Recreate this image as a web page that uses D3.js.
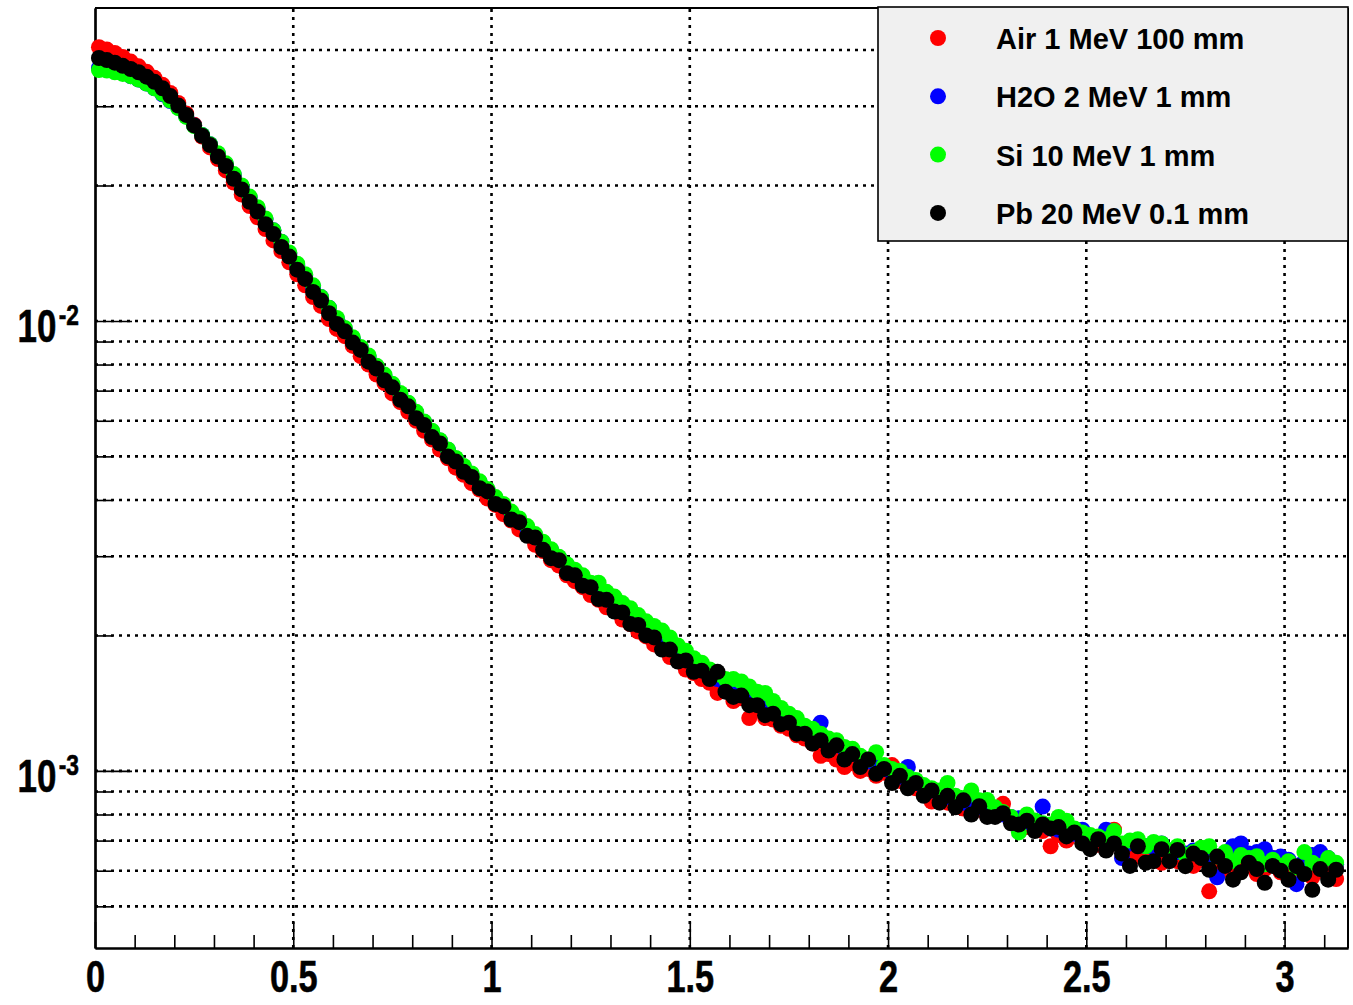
<!DOCTYPE html>
<html>
<head>
<meta charset="utf-8">
<script src="https://cdn.jsdelivr.net/npm/d3@7"></script>
<style>
  body { margin: 0; background: #fff; }
</style>
</head>
<body>
<div id="chart"></div>
<script>
// histogram bins of 0.02 starting at 0
const binWidth = 0.02;

const seriesNames = ["Air 1 MeV 100 mm", "H2O 2 MeV 1 mm", "Si 10 MeV 1 mm", "Pb 20 MeV 0.1 mm"];
const seriesColors = ["#ff0000", "#0000ff", "#00ff00", "#000000"];

const airValues = [
  0.0406, 0.0401, 0.0394, 0.0386, 0.0377, 0.0368, 0.0358, 0.0347, 0.0335, 0.0321,
  0.0305, 0.0289, 0.0273, 0.0257, 0.0243, 0.0229, 0.0216, 0.0203, 0.0191, 0.0180,
  0.0170, 0.0160, 0.0151, 0.0143, 0.0135, 0.0127, 0.0120, 0.0113, 0.0108, 0.0101,
  0.00960, 0.00925, 0.00880, 0.00835, 0.00800, 0.00760, 0.00728, 0.00690, 0.00660, 0.00628,
  0.00600, 0.00570, 0.00545, 0.00518, 0.00495, 0.00472, 0.00455, 0.00436, 0.00422, 0.00403,
  0.00390, 0.00372, 0.00360, 0.00344, 0.00335, 0.00318, 0.00308, 0.00294, 0.00286, 0.00272,
  0.00264, 0.00256, 0.00246, 0.00240, 0.00231, 0.00227, 0.00217, 0.00212, 0.00204, 0.00199,
  0.00191, 0.00187, 0.00179, 0.00176, 0.00168, 0.00165, 0.00160, 0.00157, 0.00149, 0.00152,
  0.00143, 0.00145, 0.00131, 0.00137, 0.00131, 0.00130, 0.00126, 0.00124, 0.00120, 0.00118,
  0.00115, 0.00108, 0.00109, 0.00106, 0.00102, 0.00104, 0.00100, 0.00101, 0.000975, 0.000990,
  0.00103, 0.000950, 0.000920, 0.000915, 0.000895, 0.000855, 0.000870, 0.000850, 0.000840, 0.000825,
  0.000815, 0.000820, 0.000795, 0.000800, 0.000845, 0.000775, 0.000765, 0.000750, 0.000745, 0.000735,
  0.000680, 0.000720, 0.000700, 0.000740, 0.000695, 0.000705, 0.000685, 0.000670, 0.000740, 0.000685,
  0.000655, 0.000645, 0.000660, 0.000640, 0.000625, 0.000650, 0.000630, 0.000640, 0.000615, 0.000635,
  0.000540, 0.000620, 0.000605, 0.000630, 0.000600, 0.000615, 0.000590, 0.000605, 0.000640, 0.000595,
  0.000585, 0.000610, 0.000600, 0.000580, 0.000600, 0.000590, 0.000575
];

const h2oValues = [
  0.0365, 0.0363, 0.0359, 0.0355, 0.0350, 0.0344, 0.0337, 0.0329, 0.0319, 0.0308,
  0.0298, 0.0285, 0.0272, 0.0259, 0.0247, 0.0235, 0.0223, 0.0211, 0.0199, 0.0188,
  0.0178, 0.0168, 0.0159, 0.0150, 0.0141, 0.0133, 0.0126, 0.0119, 0.0113, 0.0107,
  0.01010, 0.00962, 0.00915, 0.00872, 0.00832, 0.00792, 0.00755, 0.00722, 0.00688, 0.00656,
  0.00625, 0.00596, 0.00568, 0.00542, 0.00517, 0.00494, 0.00474, 0.00456, 0.00438, 0.00421,
  0.00404, 0.00389, 0.00374, 0.00360, 0.00347, 0.00334, 0.00321, 0.00310, 0.00298, 0.00287,
  0.00277, 0.00268, 0.00259, 0.00251, 0.00243, 0.00235, 0.00228, 0.00221, 0.00214, 0.00207,
  0.00201, 0.00195, 0.00189, 0.00184, 0.00178, 0.00173, 0.00168, 0.00164, 0.00160, 0.00156,
  0.00152, 0.00149, 0.00145, 0.00142, 0.00139, 0.00136, 0.00133, 0.00130, 0.00127, 0.00124,
  0.00121, 0.00128, 0.00116, 0.00114, 0.00112, 0.00110, 0.00107, 0.00105, 0.00103, 0.00101,
  0.000990, 0.000970, 0.00102, 0.000940, 0.000920, 0.000905, 0.000890, 0.000875, 0.000865, 0.000850,
  0.000840, 0.000830, 0.000820, 0.000810, 0.000800, 0.000790, 0.000785, 0.000770, 0.000760, 0.000833,
  0.000745, 0.000740, 0.000735, 0.000725, 0.000740, 0.000715, 0.000710, 0.000740, 0.000700, 0.000640,
  0.000690, 0.000685, 0.000680, 0.000675, 0.000690, 0.000665, 0.000660, 0.000655, 0.000665, 0.000650,
  0.000645, 0.000580, 0.000650, 0.000680, 0.000690, 0.000655, 0.000660, 0.000670, 0.000640, 0.000645,
  0.000635, 0.000560, 0.000630, 0.000650, 0.000660, 0.000640, 0.000620
];

const siValues = [
  0.0361, 0.0360, 0.0357, 0.0354, 0.0350, 0.0344, 0.0337, 0.0329, 0.0320, 0.0309,
  0.0297, 0.0284, 0.0271, 0.0259, 0.0247, 0.0236, 0.0224, 0.0212, 0.0200, 0.0189,
  0.0179, 0.0169, 0.0159, 0.0150, 0.0142, 0.0134, 0.0127, 0.0120, 0.0113, 0.0107,
  0.01015, 0.00965, 0.00920, 0.00875, 0.00838, 0.00795, 0.00760, 0.00725, 0.00692, 0.00658,
  0.00628, 0.00598, 0.00570, 0.00543, 0.00518, 0.00496, 0.00476, 0.00458, 0.00440, 0.00423,
  0.00406, 0.00392, 0.00377, 0.00364, 0.00350, 0.00336, 0.00323, 0.00311, 0.00299, 0.00288,
  0.00280, 0.00272, 0.00262, 0.00262, 0.00250, 0.00244, 0.00236, 0.00230, 0.00222, 0.00215,
  0.00210, 0.00205, 0.00198, 0.00190, 0.00185, 0.00178, 0.00174, 0.00168, 0.00164, 0.00160,
  0.00160, 0.00158, 0.00154, 0.00150, 0.00149, 0.00143, 0.00138, 0.00134, 0.00131, 0.00126,
  0.00124, 0.00121, 0.00118, 0.00117, 0.00113, 0.00112, 0.00108, 0.00106, 0.00110, 0.00103,
  0.00101, 0.00100, 0.000970, 0.000955, 0.000930, 0.000915, 0.000905, 0.000940, 0.000880, 0.000870,
  0.000905, 0.000860, 0.000862, 0.000830, 0.000810, 0.000790, 0.000730, 0.000800, 0.000776, 0.000765,
  0.000760, 0.000790, 0.000775, 0.000745, 0.000730, 0.000720, 0.000715, 0.000705, 0.000735, 0.000690,
  0.000700, 0.000705, 0.000680, 0.000695, 0.000690, 0.000665, 0.000680, 0.000650, 0.000660, 0.000675,
  0.000680, 0.000645, 0.000660, 0.000630, 0.000650, 0.000640, 0.000646, 0.000620, 0.000635, 0.000615,
  0.000630, 0.000610, 0.000660, 0.000625, 0.000615, 0.000640, 0.000625
];

const pbValues = [
  0.0384, 0.0380, 0.0375, 0.0369, 0.0363, 0.0357, 0.0349, 0.0340, 0.0329, 0.0316,
  0.0301, 0.0287, 0.0272, 0.0258, 0.0246, 0.0232, 0.0221, 0.0207, 0.0196, 0.0184,
  0.0175, 0.0164, 0.0156, 0.0146, 0.0139, 0.0130, 0.0124, 0.0116, 0.0111, 0.0104,
  0.00985, 0.00948, 0.00895, 0.00862, 0.00812, 0.00784, 0.00738, 0.00712, 0.00668, 0.00646,
  0.00608, 0.00587, 0.00552, 0.00534, 0.00500, 0.00487, 0.00462, 0.00450, 0.00425, 0.00418,
  0.00392, 0.00387, 0.00362, 0.00357, 0.00333, 0.00330, 0.00310, 0.00297, 0.00294, 0.00275,
  0.00272, 0.00258, 0.00256, 0.00241, 0.00240, 0.00226, 0.00225, 0.00212, 0.00211, 0.00200,
  0.00198, 0.00186, 0.00186, 0.00175, 0.00176, 0.00166, 0.00167, 0.00160, 0.00166, 0.00150,
  0.00146, 0.00147, 0.00140, 0.00140, 0.00133, 0.00134, 0.00127, 0.00128, 0.00121, 0.00121,
  0.00115, 0.00117, 0.00111, 0.00114, 0.00106, 0.00109, 0.00102, 0.00106, 0.000985, 0.00101,
  0.000940, 0.000975, 0.000915, 0.000940, 0.000880, 0.000905, 0.000850, 0.000880, 0.000830, 0.000860,
  0.000800, 0.000835, 0.000790, 0.000790, 0.000805, 0.000765, 0.000760, 0.000775, 0.000735, 0.000760,
  0.000745, 0.000750, 0.000715, 0.000730, 0.000690, 0.000670, 0.000705, 0.000665, 0.000690, 0.000655,
  0.000615, 0.000680, 0.000625, 0.000630, 0.000670, 0.000630, 0.000667, 0.000614, 0.000655, 0.000640,
  0.000603, 0.000645, 0.000615, 0.000573, 0.000595, 0.000625, 0.000605, 0.000564, 0.000615, 0.000600,
  0.000573, 0.000614, 0.000590, 0.000544, 0.000605, 0.000573, 0.000603
];

const xMajor = [0, 0.5, 1, 1.5, 2, 2.5, 3];
const xMinor = [0.1, 0.2, 0.3, 0.4, 0.6, 0.7, 0.8, 0.9, 1.1, 1.2, 1.3, 1.4, 1.6, 1.7, 1.8, 1.9,
                2.1, 2.2, 2.3, 2.4, 2.6, 2.7, 2.8, 2.9, 3.1];
const yMajor = [0.001, 0.01];
const yMajorLabels = [["10", "-3"], ["10", "-2"]];
const yMinor = [0.0005, 0.0006, 0.0007, 0.0008, 0.0009,
                0.002, 0.003, 0.004, 0.005, 0.006, 0.007, 0.008, 0.009,
                0.02, 0.03, 0.04];

//SVG
const width = 1353;
const height = 1005;
const frame = {l: 95, r: 1348, t: 8, b: 948};
const svg = d3.select("#chart")
    .append("svg")
    .attr("width", width)
    .attr("height", height)
    .style("background-color", "white")
    .attr("viewBox", [0, 0, width, height]);

const fontFam = "'Liberation Sans', Arial, Helvetica, sans-serif";

//Scales
const xScale = d3.scaleLinear()
    .domain([0, 3.16])
    .range([frame.l, frame.r]);
const yScale = d3.scaleLog()
    .domain([0.000404, 0.0496])
    .range([frame.b, frame.t]);

//Grid
const grid = svg.append("g").attr("class", "grid")
    .attr("stroke", "#000")
    .attr("stroke-width", 2.6)
    .attr("stroke-dasharray", "3 5");
grid.selectAll(".gx")
    .data(xMajor.filter(d => d > 0))
    .enter().append("line")
    .attr("x1", d => xScale(d)).attr("x2", d => xScale(d))
    .attr("y1", frame.b).attr("y2", frame.t);
grid.selectAll(".gy")
    .data(yMajor.concat(yMinor))
    .enter().append("line")
    .attr("y1", d => yScale(d)).attr("y2", d => yScale(d))
    .attr("x1", frame.l).attr("x2", frame.r);

//X Axis
const xAxis = svg.append("g")
    .attr("class", "xAxis")
    .attr("transform", `translate(0, ${frame.b})`)
    .call(d3.axisBottom(xScale)
        .tickValues(xMajor)
        .tickSize(-26)
        .tickSizeOuter(0)
        .tickPadding(13)
        .tickFormat(d => String(d)));
svg.append("g")
    .attr("class", "xAxisMinor")
    .attr("transform", `translate(0, ${frame.b})`)
    .call(d3.axisBottom(xScale)
        .tickValues(xMinor)
        .tickSize(-13)
        .tickSizeOuter(0)
        .tickFormat(""));
xAxis.selectAll("text")
    .attr("transform", "scale(0.78,1)")
    .style("font-family", fontFam)
    .style("font-weight", "bold")
    .style("font-size", "44px")
    .style("stroke", "#000")
    .style("stroke-width", "0.6px")
    .attr("fill", "#000");

//Y Axis
svg.append("g")
    .attr("class", "yAxis")
    .attr("transform", `translate(${frame.l}, 0)`)
    .call(d3.axisLeft(yScale)
        .tickValues(yMajor)
        .tickSize(-37)
        .tickSizeOuter(0)
        .tickFormat(""));
svg.append("g")
    .attr("class", "yAxisMinor")
    .attr("transform", `translate(${frame.l}, 0)`)
    .call(d3.axisLeft(yScale)
        .tickValues(yMinor)
        .tickSize(-18)
        .tickSizeOuter(0)
        .tickFormat(""));

svg.selectAll(".xAxis line, .xAxisMinor line, .yAxis line, .yAxisMinor line")
    .attr("stroke", "#000")
    .attr("stroke-width", 1.6);
svg.selectAll(".xAxis path, .xAxisMinor path, .yAxis path, .yAxisMinor path")
    .attr("stroke", "#000")
    .attr("stroke-width", 2.2);

// y labels 10^n
yMajor.forEach((v, k) => {
    const t = svg.append("text")
        .attr("transform", `translate(79, ${yScale(v) + 21}) scale(0.76,1)`)
        .attr("text-anchor", "end")
        .style("font-family", fontFam)
        .style("font-weight", "bold")
        .style("stroke", "#000")
        .style("stroke-width", "0.6px")
        .attr("fill", "#000");
    t.append("tspan").style("font-size", "46px").text(yMajorLabels[k][0]);
    t.append("tspan").attr("dx", 3).attr("dy", -17).style("font-size", "30px").text(yMajorLabels[k][1]);
});

// top and right frame
svg.append("line").attr("x1", frame.l).attr("x2", frame.r).attr("y1", frame.t).attr("y2", frame.t)
    .attr("stroke", "#000").attr("stroke-width", 2);
svg.append("line").attr("x1", frame.r).attr("x2", frame.r).attr("y1", frame.t).attr("y2", frame.b)
    .attr("stroke", "#000").attr("stroke-width", 2);

//Points
const allValues = [airValues, h2oValues, siValues, pbValues];
allValues.forEach((vals, s) => {
    svg.append("g")
        .attr("class", "series")
        .selectAll("circle")
        .data(vals)
        .enter()
        .append("circle")
        .attr("cx", (d, i) => xScale((i + 0.5) * binWidth))
        .attr("cy", d => yScale(d))
        .attr("r", 8)
        .attr("fill", seriesColors[s]);
});

//Legend
const legend = svg.append("g").attr("class", "legend");
legend.append("rect")
    .attr("x", 878).attr("y", 7)
    .attr("width", 470).attr("height", 234)
    .attr("fill", "#f0f0f0")
    .attr("stroke", "#000")
    .attr("stroke-width", 1.6);
seriesNames.forEach((name, k) => {
    const cy = 38 + k * 58.3;
    legend.append("circle")
        .attr("cx", 938).attr("cy", cy).attr("r", 8)
        .attr("fill", seriesColors[k]);
    legend.append("text")
        .attr("x", 996).attr("y", cy + 11)
        .style("font-family", fontFam)
        .style("font-weight", "bold")
        .style("font-size", "29px")
        .attr("fill", "#000")
        .text(name);
});
</script>
</body>
</html>
